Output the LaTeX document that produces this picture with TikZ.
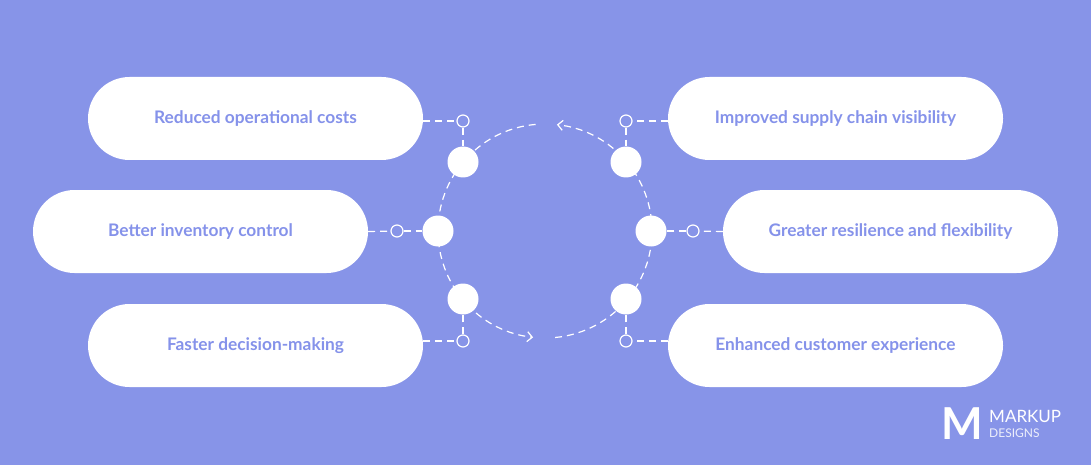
\documentclass[tikz,border=0pt]{standalone}
\usepackage{fontspec}
\setmainfont{Lato}
\usetikzlibrary{arrows.meta}
\definecolor{bgblue}{HTML}{8794E8}
\definecolor{txtblue}{HTML}{8592EA}
\begin{document}
\begin{tikzpicture}[x=1pt,y=-1pt,
    pill/.style={fill=white,rounded corners=41.5pt,minimum width=335pt,minimum height=83pt,
      font=\bfseries\fontsize{17.3}{19}\selectfont,text=txtblue},
    dot/.style={circle,fill=white,minimum size=31pt,inner sep=0pt},
    ring/.style={circle,draw=white,line width=1.2pt,minimum size=12pt,inner sep=0pt},
    dashline/.style={white,line width=1.2pt,dash pattern=on 7pt off 5pt}]

  %% Background and frame
  \fill[bgblue] (0,0) rectangle (1091,465);
  \useasboundingbox (0,0) rectangle (1091,465);

  %% Boxes with the benefits
  \node[pill] (rc) at (255.5,118.5) {Reduced operational costs};
  \node[pill] (bi) at (200.5,231.5) {Better inventory control};
  \node[pill] (fd) at (255.5,345.5) {Faster decision-making};
  \node[pill] (is) at (835.5,118.5) {Improved supply chain visibility};
  \node[pill] (gr) at (890.5,231.5) {Greater resilience and flexibility};
  \node[pill] (ec) at (835.5,345.5) {Enhanced customer experience};

  %% Dashed cycle with arrows
  \coordinate (c) at (545,231);
  \draw[dashline,-{Straight Barb[length=5pt,width=10pt]}] (c) ++(-95:107) arc[start angle=-95,end angle=-263.6,radius=107];
  \draw[dashline,-{Straight Barb[length=5pt,width=10pt]}] (c) ++(84.6:107) arc[start angle=84.6,end angle=-83.6,radius=107];

  %% Dots on the cycle and small rings
  \foreach \n/\dx/\dy/\rx/\ry in {d1/463/162/463/121, d2/438/231/397/231, d3/463/299/463/341,
                                   d4/626/162/626/121, d5/651/231/693/231, d6/626/299/626/341}{
    \node[dot] (\n) at (\dx,\dy) {};
    \node[ring] (r\n) at (\rx,\ry) {};
  }

  %% Connectors
  \draw[dashline] (rc.east |- rd1) -- (rd1);
  \draw[dashline] (rd1) -- (d1);
  \draw[dashline] (bi.east) -- (rd2);
  \draw[dashline] (rd2) -- (d2);
  \draw[dashline] (fd.east |- rd3) -- (rd3);
  \draw[dashline] (rd3) -- (d3);
  \draw[dashline] (is.west |- rd4) -- (rd4);
  \draw[dashline] (rd4) -- (d4);
  \draw[dashline] (gr.west) -- (rd5);
  \draw[dashline] (rd5) -- (d5);
  \draw[dashline] (ec.west |- rd6) -- (rd6);
  \draw[dashline] (rd6) -- (d6);

  %% Logo
  \node[text=white,font=\bfseries\fontsize{44}{44}\selectfont,inner sep=0pt] (logom) at (962,424) {M};
  \node[text=white,font=\fontsize{17}{17}\selectfont,anchor=west,inner sep=0pt] (logo1) at (989,416) {MARKUP};
  \node[text=white!85!bgblue,font=\fontsize{12}{12}\selectfont,anchor=west,inner sep=0pt] (logo2) at (989,433) {DESIGNS};
\end{tikzpicture}
\end{document}
